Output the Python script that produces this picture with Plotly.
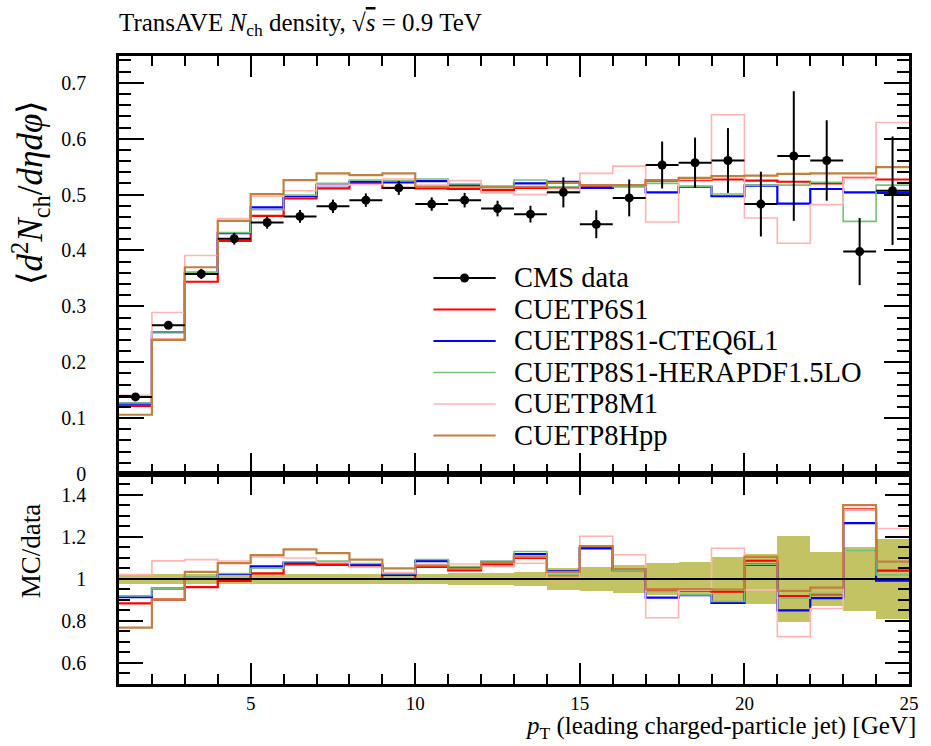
import plotly.graph_objects as go

# Binning: 1 GeV bins of leading charged-particle jet pT
edges = list(range(1, 26))
centers = [e + 0.5 for e in edges[:-1]]

# CMS data: transverse-average charged-particle density and its uncertainty
data = [0.138, 0.266, 0.358, 0.421, 0.450, 0.461, 0.479, 0.490, 0.512, 0.483, 0.490, 0.475,
        0.465, 0.504, 0.447, 0.494, 0.553, 0.557, 0.561, 0.483, 0.569, 0.561, 0.398, 0.507]
data_err = [0.0035, 0.0065, 0.009, 0.0105, 0.011, 0.0115, 0.012, 0.012, 0.0125, 0.012, 0.013, 0.014,
            0.015, 0.027, 0.025, 0.033, 0.042, 0.045, 0.058, 0.058, 0.116, 0.072, 0.060, 0.097]

# Monte Carlo tunes
cuetp6s1 = [0.122, 0.240, 0.344, 0.417, 0.462, 0.493, 0.511, 0.520, 0.512, 0.511, 0.510, 0.508,
            0.512, 0.513, 0.513, 0.516, 0.525, 0.526, 0.527, 0.525, 0.523, 0.520, 0.530, 0.527]
cuetp8s1_cteq = [0.126, 0.254, 0.360, 0.431, 0.477, 0.497, 0.517, 0.523, 0.522, 0.524, 0.517, 0.514,
                 0.520, 0.523, 0.512, 0.515, 0.504, 0.514, 0.497, 0.516, 0.484, 0.510, 0.504, 0.503]
cuetp8s1_hera = [0.127, 0.254, 0.361, 0.432, 0.473, 0.499, 0.520, 0.526, 0.525, 0.528, 0.519, 0.515,
                 0.526, 0.514, 0.517, 0.514, 0.520, 0.515, 0.501, 0.517, 0.517, 0.522, 0.452, 0.517]
cuetp8m1 = [0.141, 0.289, 0.391, 0.457, 0.497, 0.507, 0.517, 0.518, 0.528, 0.517, 0.525, 0.503,
            0.500, 0.503, 0.538, 0.551, 0.451, 0.527, 0.643, 0.458, 0.413, 0.482, 0.529, 0.629]
cuetp8hpp = [0.106, 0.240, 0.370, 0.453, 0.501, 0.526, 0.538, 0.535, 0.538, 0.514, 0.514, 0.513,
             0.514, 0.521, 0.517, 0.517, 0.526, 0.530, 0.533, 0.534, 0.537, 0.538, 0.538, 0.549]

labels = ["CMS data", "CUETP6S1", "CUETP8S1-CTEQ6L1", "CUETP8S1-HERAPDF1.5LO", "CUETP8M1", "CUETP8Hpp"]
models = [cuetp6s1, cuetp8s1_cteq, cuetp8s1_hera, cuetp8m1, cuetp8hpp]
colors = ["#ff0000", "#0000ff", "#78c078", "#ffb4b4", "#bf8040"]
widths = [2.2, 2.2, 1.6, 1.6, 2.2]
band_color = "#c3c364"

FONT = "Liberation Serif"

fig = go.Figure()


def step_xy(values):
    return edges, list(values) + [values[-1]]


# ---- main panel ----
for vals, col, w in zip(models, colors, widths):
    sx, sy = step_xy(vals)
    fig.add_trace(go.Scatter(x=sx, y=sy, mode="lines", line=dict(color=col, width=w, shape="hv"),
                             xaxis="x", yaxis="y", showlegend=False, hoverinfo="skip"))

fig.add_trace(go.Scatter(
    x=centers, y=data, mode="markers",
    marker=dict(color="black", size=9),
    error_y=dict(type="data", array=data_err, color="black", thickness=2, width=0),
    error_x=dict(type="constant", value=0.5, color="black", thickness=2, width=0),
    xaxis="x", yaxis="y", showlegend=False))

# ---- ratio panel ----
rel_err = [e / d for e, d in zip(data_err, data)]
fig.add_trace(go.Bar(x=centers, y=[2 * r for r in rel_err], base=[1 - r for r in rel_err], width=1,
                     marker=dict(color=band_color, line=dict(width=0)),
                     xaxis="x2", yaxis="y2", showlegend=False, hoverinfo="skip"))

for vals, col, w in zip(models, colors, widths):
    ratio = [m / d for m, d in zip(vals, data)]
    sx, sy = step_xy(ratio)
    fig.add_trace(go.Scatter(x=sx, y=sy, mode="lines", line=dict(color=col, width=w, shape="hv"),
                             xaxis="x2", yaxis="y2", showlegend=False, hoverinfo="skip"))

data_ratio = [d / d for d in data]
sx, sy = step_xy(data_ratio)
fig.add_trace(go.Scatter(x=sx, y=sy, mode="lines", line=dict(color="black", width=2, shape="hv"),
                         xaxis="x2", yaxis="y2", showlegend=False, hoverinfo="skip"))

# ---- axes ----
split = 0.3344
tickfont = dict(family=FONT, size=20, color="black")
common = dict(showline=True, linecolor="black", linewidth=2.5, mirror="allticks",
              ticks="inside", tickcolor="black", tickwidth=2, showgrid=False, zeroline=False,
              tickfont=tickfont)
xcommon = dict(common, range=[1, 25], tick0=0, dtick=5, ticklen=21,
               tickfont=dict(family=FONT, size=19, color="black"),
               minor=dict(ticks="inside", ticklen=10, dtick=1, tickcolor="black", tickwidth=2))

fig.update_layout(
    width=931, height=746,
    margin=dict(l=119, r=13, t=56, b=62),
    paper_bgcolor="white", plot_bgcolor="white",
    barmode="overlay", bargap=0,
    xaxis=dict(xcommon, domain=[0, 1], anchor="y", showticklabels=False),
    yaxis=dict(common, domain=[split, 1], anchor="x", range=[0, 0.748], tick0=0, dtick=0.1,
               ticklen=25, ticklabelstandoff=26,
               minor=dict(ticks="inside", ticklen=12, dtick=0.02, tickcolor="black", tickwidth=2)),
    xaxis2=dict(xcommon, domain=[0, 1], anchor="y2", ticklabelstandoff=0),
    yaxis2=dict(common, domain=[0, split], anchor="x2", range=[0.5, 1.5], tick0=0, dtick=0.2,
                ticklen=24, ticklabelstandoff=26,
                minor=dict(ticks="inside", ticklen=11, dtick=0.05, tickcolor="black", tickwidth=2)),
)

# ---- titles ----
ann = []
ann.append(dict(text="TransAVE <i>N</i><sub>ch</sub> density, √<span style='text-decoration:overline'><i>s</i></span> = 0.9 TeV",
                xref="paper", yref="paper", x=-0.002, y=1.05, xanchor="left", yanchor="middle",
                showarrow=False, font=dict(family=FONT, size=25, color="black")))
ann.append(dict(text="⟨<i>d</i><sup>2</sup><i>N</i><sub>ch</sub>/<i>dηdφ</i>⟩",
                xref="paper", yref="paper", x=-0.112, y=0.782, xanchor="center", yanchor="middle",
                textangle=-90, showarrow=False, font=dict(family=FONT, size=35, color="black")))
ann.append(dict(text="MC/data", xref="paper", yref="paper", x=-0.111, y=0.212,
                xanchor="center", yanchor="middle", textangle=-90, showarrow=False,
                font=dict(family=FONT, size=27, color="black")))
ann.append(dict(text="<i>p</i><sub>T</sub> (leading charged-particle jet) [GeV]",
                xref="paper", yref="paper", x=1.012, y=-0.0975, xanchor="right", yanchor="bottom",
                showarrow=False, font=dict(family=FONT, size=25, color="black")))

# ---- legend ----
shapes = []
leg_x0, leg_x1, leg_txt = 0.398, 0.4768, 0.4969
leg_y = [0.6465, 0.5963, 0.5462, 0.4960, 0.4459, 0.3957]
leg_colors = ["black"] + colors
leg_widths = [2] + widths
for lab, col, w, yy in zip(labels, leg_colors, leg_widths, leg_y):
    shapes.append(dict(type="line", xref="paper", yref="paper", x0=leg_x0, x1=leg_x1, y0=yy, y1=yy,
                       line=dict(color=col, width=w)))
    ann.append(dict(text=lab, xref="paper", yref="paper", x=leg_txt, y=yy, xanchor="left",
                    yanchor="middle", showarrow=False, font=dict(family=FONT, size=28.5, color="black")))
shapes.append(dict(type="circle", xref="paper", yref="paper", xsizemode="pixel", ysizemode="pixel",
                   xanchor=(leg_x0 + leg_x1) / 2, yanchor=leg_y[0], x0=-4.5, x1=4.5, y0=-4.5, y1=4.5,
                   fillcolor="black", line=dict(color="black", width=0)))

fig.update_layout(annotations=ann, shapes=shapes)

fig.write_html("out.html")
